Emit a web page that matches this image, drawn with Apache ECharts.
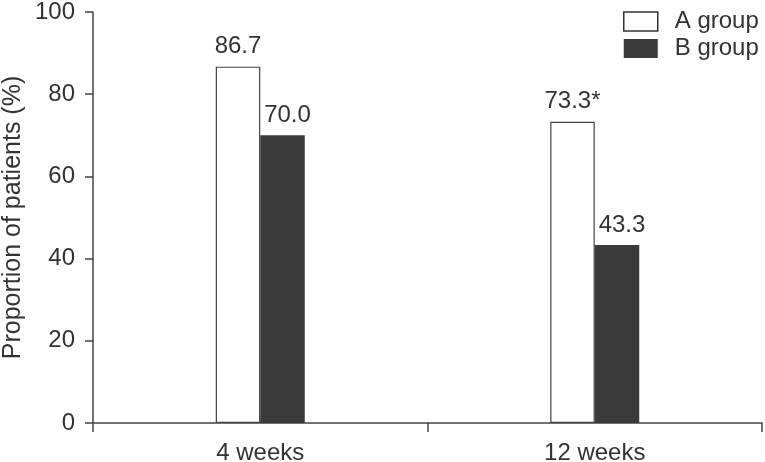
<!DOCTYPE html>
<html><head><meta charset="utf-8">
<script src="https://cdn.jsdelivr.net/npm/echarts@6/dist/echarts.min.js"></script>
<style>html,body{margin:0;padding:0;background:#fff}#c{width:765px;height:462px}</style>
</head><body><div id="c"></div>
<script>
const categories = ['4 weeks', '12 weeks'];
const groupA = [86.7, 73.3];
const groupB = [70.0, 43.3];
const labelsA = ['86.7', '73.3*'];
const labelsB = ['70.0', '43.3'];
const yTicks = [0, 20, 40, 60, 80, 100];
const yName = 'Proportion of patients (%)';

const chart = echarts.init(document.getElementById('c'), null, {renderer: 'canvas'});
const font = 'Arial, "Liberation Sans", sans-serif';
const axisColor = '#444';
const fs = 24;
chart.setOption({
  animation: false,
  grid: {left: 93, right: 3, top: 12, bottom: 39, containLabel: false, outerBoundsMode: 'none'},
  legend: {
    left: 623, top: 9.5, padding: 0, orient: 'vertical', itemWidth: 34, itemHeight: 19, itemGap: 3,
    icon: 'rect',
    textStyle: {fontFamily: font, fontSize: fs, color: '#333', padding: [0, 0, 0, 12]},
    data: [
      {name: 'A group', itemStyle: {color: '#fff', borderColor: '#333', borderWidth: 1.5}},
      {name: 'B group', itemStyle: {color: '#3a3a3a'}}
    ]
  },
  xAxis: {
    type: 'category', data: categories,
    axisLine: {lineStyle: {color: axisColor, width: 1.5}},
    axisTick: {show: true, length: 9, lineStyle: {color: axisColor, width: 1.5}},
    axisLabel: {fontFamily: font, fontSize: fs, color: '#333', margin: 18}
  },
  yAxis: {
    type: 'value', min: yTicks[0], max: yTicks[yTicks.length - 1], interval: 20,
    name: yName, nameLocation: 'middle', nameGap: 80, nameMoveOverlap: false,
    nameTextStyle: {fontFamily: font, fontSize: 25, color: '#333', verticalAlign: 'middle'},
    axisLine: {show: true, lineStyle: {color: axisColor, width: 1.5}},
    axisTick: {show: true, length: 8, lineStyle: {color: axisColor, width: 1.5}},
    axisLabel: {fontFamily: font, fontSize: fs, color: '#333', margin: 18},
    splitLine: {show: false}
  },
  series: [
    {
      name: 'A group', type: 'bar', data: groupA, barWidth: 44.5, barGap: '0%',
      itemStyle: {color: '#fff', borderColor: '#444', borderWidth: 1.2},
      label: {show: true, position: 'top', distance: 8, fontFamily: font, fontSize: fs, color: '#333',
        formatter: p => labelsA[p.dataIndex]}
    },
    {
      name: 'B group', type: 'bar', data: groupB, barWidth: 44.5,
      itemStyle: {color: '#3a3a3a'},
      label: {show: true, position: 'top', distance: 8, offset: [5, 0], fontFamily: font, fontSize: fs, color: '#333',
        formatter: p => labelsB[p.dataIndex]}
    }
  ]
});
</script></body></html>
